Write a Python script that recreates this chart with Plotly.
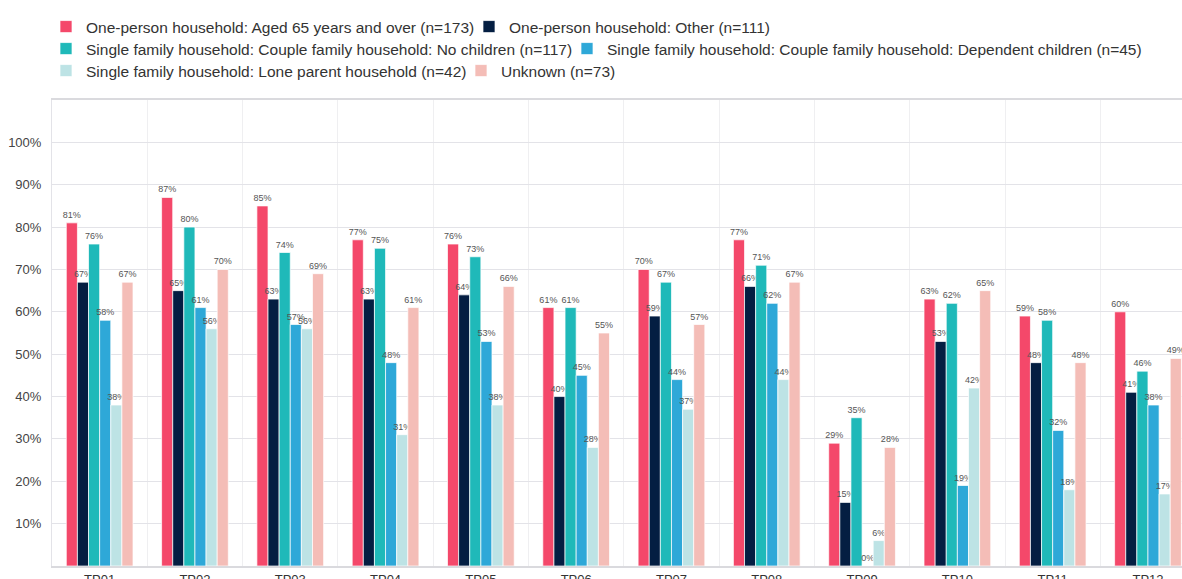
import plotly.graph_objects as go

categories = ["TP01", "TP02", "TP03", "TP04", "TP05", "TP06",
              "TP07", "TP08", "TP09", "TP10", "TP11", "TP12"]

series_names = [
    "One-person household: Aged 65 years and over (n=173)",
    "One-person household: Other (n=111)",
    "Single family household: Couple family household: No children (n=117)",
    "Single family household: Couple family household: Dependent children (n=45)",
    "Single family household: Lone parent household (n=42)",
    "Unknown (n=73)",
]

aged65 = [81, 87, 85, 77, 76, 61, 70, 77, 29, 63, 59, 60]
one_other = [67, 65, 63, 63, 64, 40, 59, 66, 15, 53, 48, 41]
couple_no_children = [76, 80, 74, 75, 73, 61, 67, 71, 35, 62, 58, 46]
couple_dependent = [58, 61, 57, 48, 53, 45, 44, 62, 0, 19, 32, 38]
lone_parent = [38, 56, 56, 31, 38, 28, 37, 44, 6, 42, 18, 17]
unknown = [67, 70, 69, 61, 66, 55, 57, 67, 28, 65, 48, 49]

series_values = [aged65, one_other, couple_no_children, couple_dependent, lone_parent, unknown]
colors = ["#F4486A", "#041E42", "#1FB9B9", "#2EA8D8", "#BDE3E5", "#F4BDB7"]

y_ticks = [10, 20, 30, 40, 50, 60, 70, 80, 90, 100]
y_tick_labels = [f"{v}%" for v in y_ticks]

W, H = 1182, 579
FONT = "Liberation Sans, Arial, Helvetica, sans-serif"

# legend entry placement (text start x, row centre y) in page pixels
legend_text_x = [86, 509, 86, 607, 86, 501]
legend_row_y = [27, 27, 49, 49, 71, 71]

fig = go.Figure()
legend_ids = ["legend", "legend2", "legend3", "legend4", "legend5", "legend6"]
for name, vals, col, lid in zip(series_names, series_values, colors, legend_ids):
    fig.add_trace(go.Bar(
        name=name,
        x=categories,
        y=vals,
        legend=lid,
        marker=dict(color=col, line=dict(color="rgba(255,255,255,0.7)", width=1)),
        text=[f"{v}%" for v in vals],
        textposition="outside",
        textangle=0,
        constraintext="none",
        textfont=dict(size=9, color="#555555", family=FONT),
        cliponaxis=True,
    ))

legend_layouts = {}
for lid, tx, ty in zip(legend_ids, legend_text_x, legend_row_y):
    legend_layouts[lid] = dict(
        orientation="h",
        xref="container", yref="container",
        x=(tx - 40) / W, xanchor="left",
        y=1 - ty / H, yanchor="middle",
        font=dict(size=15.5, color="#333333", family=FONT),
        itemwidth=30,
        bgcolor="rgba(0,0,0,0)",
        borderwidth=0,
    )

fig.update_layout(
    width=W,
    height=H,
    margin=dict(l=52, r=0, t=100, b=13),
    paper_bgcolor="white",
    plot_bgcolor="white",
    barmode="group",
    bargap=0.3,
    bargroupgap=0,
    showlegend=True,
    font=dict(family=FONT, color="#333333"),
    xaxis=dict(
        type="category",
        range=[-0.5, 11.357],
        automargin=False,
        tickson="boundaries",
        showgrid=True,
        gridcolor="#EFEFF1",
        gridwidth=1,
        ticks="",
        ticklabelstandoff=0,
        showline=True,
        linecolor="#DADADE",
        linewidth=2,
        mirror=True,
        tickfont=dict(size=13, color="#333333"),
    ),
    yaxis=dict(
        range=[0, 110],
        automargin=False,
        tickvals=y_ticks,
        ticktext=y_tick_labels,
        showgrid=True,
        gridcolor="#E3E3E8",
        gridwidth=1,
        zeroline=False,
        showline=True,
        linecolor="#E3E3E8",
        linewidth=1,
        ticks="",
        ticklabelstandoff=7,
        tickfont=dict(size=13, color="#444444"),
    ),
    **legend_layouts,
)

fig.write_html("out.html")
